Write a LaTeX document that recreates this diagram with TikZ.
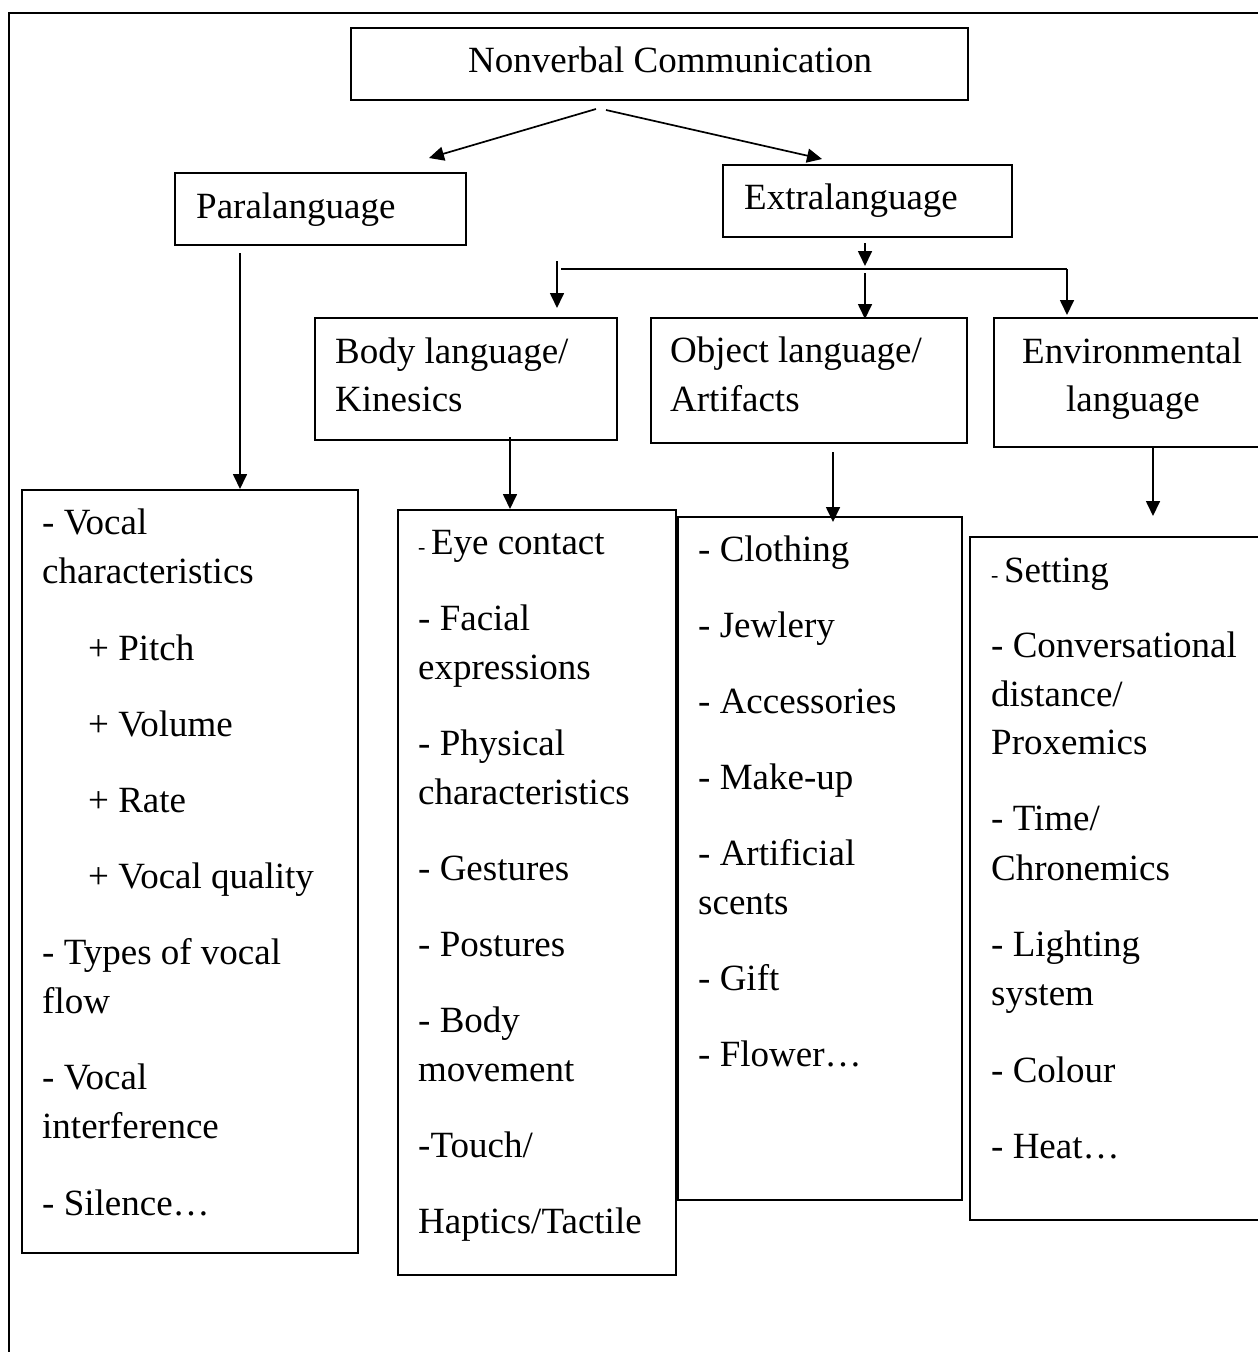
\documentclass[tikz,border=0pt]{standalone}
\usepackage{fontspec}
\setmainfont{Liberation Serif}
\usetikzlibrary{arrows.meta}
\tikzset{
  hbox/.style={draw, line width=2pt, inner sep=0pt, anchor=north west},
  cbox/.style={draw, line width=1.6pt, inner sep=0pt, anchor=north west},
  txt/.style={anchor=base west, inner sep=0pt, font=\fontsize{37}{44}\selectfont},
  arr/.style={line width=1.7pt, -{Triangle[length=15pt,width=14pt]}},
  ln/.style={line width=1.7pt},
  frame/.style={line width=1.6pt}
}
\newcommand{\tl}[4]{\node[txt] (#1) at (#2,#3) {#4};}
\newcommand{\smd}{{\fontsize{22}{22}\selectfont - }}
\begin{document}
\begin{tikzpicture}[x=1pt,y=-1pt]
\useasboundingbox (0,0) rectangle (1258,1352);
\clip (0,0) rectangle (1258,1352);
\draw[frame] (9,13) rectangle (1320,1420);

% header boxes
\node[hbox, minimum width=617pt, minimum height=72pt] (nv) at (350,27) {};
\node[hbox, minimum width=291pt, minimum height=72pt] (para) at (174,172) {};
\node[hbox, minimum width=289pt, minimum height=72pt] (extra) at (722,164) {};
\node[hbox, minimum width=302pt, minimum height=122pt] (body) at (314,317) {};
\node[hbox, minimum width=316pt, minimum height=125pt] (obj) at (650,317) {};
\node[hbox, minimum width=300pt, minimum height=129pt] (env) at (993,317) {};

% content boxes
\node[cbox, minimum width=336pt, minimum height=763pt] (parac) at (21,489) {};
\node[cbox, minimum width=278pt, minimum height=765pt] (bodyc) at (397,509) {};
\node[cbox, minimum width=284pt, minimum height=683pt] (objc) at (677,516) {};
\node[cbox, minimum width=320pt, minimum height=683pt] (envc) at (969,536) {};

% header texts
\tl{tnv}{468}{72}{Nonverbal Communication}
\tl{tpara}{196}{218}{Paralanguage}
\tl{textra}{744}{209}{Extralanguage}
\tl{tbody1}{335}{363}{Body language/}
\tl{tbody2}{335}{411}{Kinesics}
\tl{tobj1}{670}{362}{Object language/}
\tl{tobj2}{670}{411}{Artifacts}
\tl{tenv1}{1022}{363}{Environmental}
\tl{tenv2}{1066}{411}{language}

% paralanguage list
\tl{p1}{42}{534}{- Vocal}
\tl{p2}{42}{583}{characteristics}
\tl{p3}{88}{660}{+ Pitch}
\tl{p4}{88}{736}{+ Volume}
\tl{p5}{88}{812}{+ Rate}
\tl{p6}{88}{888}{+ Vocal quality}
\tl{p7}{42}{964}{- Types of vocal}
\tl{p8}{42}{1013}{flow}
\tl{p9}{42}{1089}{- Vocal}
\tl{p10}{42}{1138}{interference}
\tl{p11}{42}{1215}{- Silence…}

% body list
\tl{b1}{418}{554}{\smd Eye contact}
\tl{b2}{418}{630}{- Facial}
\tl{b3}{418}{679}{expressions}
\tl{b4}{418}{755}{- Physical}
\tl{b5}{418}{804}{characteristics}
\tl{b6}{418}{880}{- Gestures}
\tl{b7}{418}{956}{- Postures}
\tl{b8}{418}{1032}{- Body}
\tl{b9}{418}{1081}{movement}
\tl{b10}{418}{1157}{-Touch/}
\tl{b11}{418}{1233}{Haptics/Tactile}

% object list
\tl{o1}{698}{561}{- Clothing}
\tl{o2}{698}{637}{- Jewlery}
\tl{o3}{698}{713}{- Accessories}
\tl{o4}{698}{789}{- Make-up}
\tl{o5}{698}{865}{- Artificial}
\tl{o6}{698}{914}{scents}
\tl{o7}{698}{990}{- Gift}
\tl{o8}{698}{1066}{- Flower…}

% environmental list
\tl{e1}{991}{582}{\smd Setting}
\tl{e2}{991}{657}{- Conversational}
\tl{e3}{991}{706}{distance/}
\tl{e4}{991}{754}{Proxemics}
\tl{e5}{991}{830}{- Time/}
\tl{e6}{991}{880}{Chronemics}
\tl{e7}{991}{956}{- Lighting}
\tl{e8}{991}{1005}{system}
\tl{e9}{991}{1082}{- Colour}
\tl{e10}{991}{1158}{- Heat…}

% connectors
\coordinate (nvL) at (596,109);
\coordinate (nvR) at (606,110);
\coordinate (paraT) at (429,158);
\coordinate (extraT) at (822,159);
\draw[arr] (nvL) -- (paraT);
\draw[arr] (nvR) -- (extraT);

\coordinate (paraS) at (240,253);
\draw[arr] (paraS) -- (paraS |- parac.north);

\coordinate (extraS) at (865,243);
\coordinate (split) at (865,266);
\draw[arr] (extraS) -- (split);

\coordinate (hL) at (561,269);
\coordinate (hR) at (1067,269);
\draw[ln] (hL) -- (hR);
\draw[arr] (hR) -- (1067,315);

\coordinate (bodyS) at (557,261);
\draw[arr] (bodyS) -- (557,308);

\coordinate (objS) at (865,273);
\draw[arr] (objS) -- ([yshift=-2pt]objS |- obj.north);

\coordinate (bodyB) at (510,437);
\draw[arr] (bodyB) -- (bodyB |- bodyc.north);

\coordinate (objB) at (833,452);
\draw[arr] (objB) -- ([yshift=-6pt]objB |- objc.north);

\coordinate (envB) at (1153,446);
\draw[arr] (envB) -- ([yshift=20pt]envB |- envc.north);
\end{tikzpicture}
\end{document}
